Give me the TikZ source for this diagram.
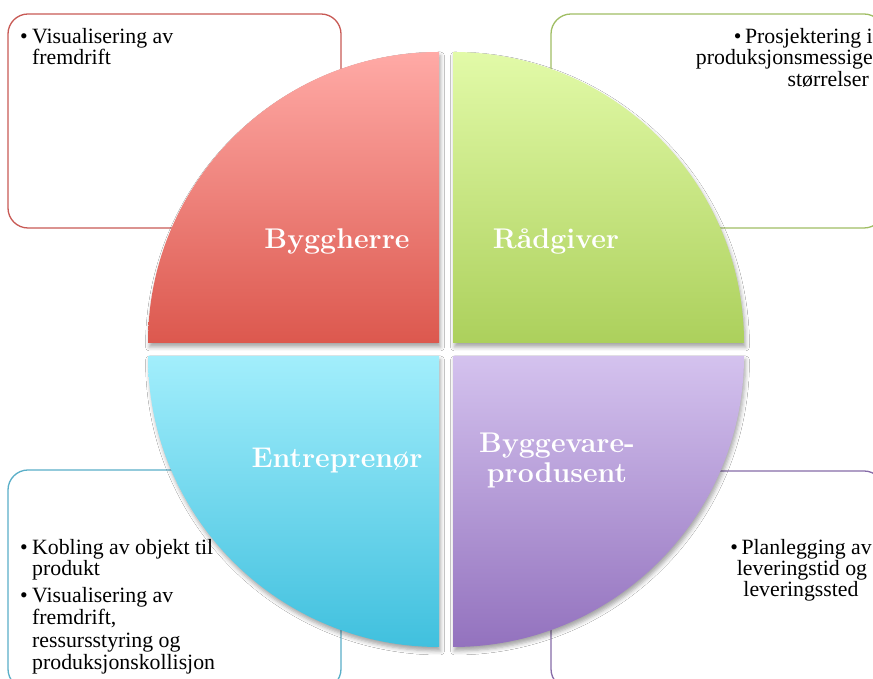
\documentclass[tikz,border=0pt]{standalone}
\usepackage{fontspec}
\newfontfamily\bodyfont{Liberation Serif}
\usetikzlibrary{shadows.blur}
\definecolor{redT}{RGB}{255,170,166}
\definecolor{redB}{RGB}{220,88,78}
\definecolor{grnT}{RGB}{226,250,168}
\definecolor{grnB}{RGB}{172,208,92}
\definecolor{cyaT}{RGB}{162,238,252}
\definecolor{cyaB}{RGB}{64,192,222}
\definecolor{purT}{RGB}{212,194,238}
\definecolor{purB}{RGB}{147,114,190}
\definecolor{redL}{RGB}{200,90,85}
\definecolor{grnL}{RGB}{160,190,100}
\definecolor{cyaL}{RGB}{90,175,200}
\definecolor{purL}{RGB}{135,108,168}
\tikzset{
  quadshape/.style={blur shadow={shadow xshift=1.5pt,shadow yshift=-4pt,shadow blur radius=4pt,shadow opacity=35}},
  infobox/.style={rounded corners=20pt,line width=1.3pt,fill=white},
  bodytext/.style={inner sep=0pt,font=\bodyfont\fontsize{21.8}{24}\selectfont,text=black},
  quadlabel/.style={text=white,inner sep=0pt,font=\fontsize{28.5}{30}\selectfont\bfseries,align=center}
}
\begin{document}
\begin{tikzpicture}[x=1pt,y=1pt]
\useasboundingbox (0,0) rectangle (873,679);
\clip (0,0) rectangle (873,679);
\fill[white] (0,0) rectangle (873,679);
% side boxes
\draw[infobox,draw=redL] (8,451) rectangle (341,665);
\draw[infobox,draw=grnL] (551,451) rectangle (884,665);
\draw[infobox,draw=cyaL] (8,-10) rectangle (341,209);
\draw[infobox,draw=purL] (551,-10) rectangle (884,208);
% box texts
\node[bodytext,anchor=base west] (tlb) at (20,635) {\textbullet};
\node[bodytext,anchor=base west] (tl1) at (32,635) {Visualisering av};
\node[bodytext,anchor=base west] (tl2) at (32,614) {fremdrift};
\node[bodytext,anchor=base east] (tr1) at (873,635) {\textbullet\,Prosjektering i};
\node[bodytext,anchor=base east] (tr2) at (873,614) {produksjonsmessige};
\node[bodytext,anchor=base east] (tr3) at (869,592) {størrelser};
\node[bodytext,anchor=base] (br1) at (801,124) {\textbullet\,Planlegging av};
\node[bodytext,anchor=base] (br2) at (802,103) {leveringstid og};
\node[bodytext,anchor=base] (br3) at (801,82) {leveringssted};
\node[bodytext,anchor=base west] (blb1) at (20,124) {\textbullet};
\node[bodytext,anchor=base west] (bl1) at (32,124) {Kobling av objekt til};
\node[bodytext,anchor=base west] (bl2) at (32,103) {produkt};
\node[bodytext,anchor=base west] (blb2) at (20,76) {\textbullet};
\node[bodytext,anchor=base west] (bl3) at (32,76) {Visualisering av};
\node[bodytext,anchor=base west] (bl4) at (32,54) {fremdrift,};
\node[bodytext,anchor=base west] (bl5) at (32,31) {ressursstyring og};
\node[bodytext,anchor=base west] (bl6) at (32,9) {produksjonskollisjon};
% quadrants
\path[quadshape,top color=redT,bottom color=redB]
  (439,336) -- (148,336) arc[start angle=180,end angle=90,radius=291pt] -- cycle;
\path[quadshape,top color=grnT,bottom color=grnB]
  (453,336) -- (453,627) arc[start angle=90,end angle=0,radius=291pt] -- cycle;
\path[quadshape,top color=cyaT,bottom color=cyaB]
  (439,323) -- (148,323) arc[start angle=180,end angle=270,radius=291pt] -- cycle;
\path[quadshape,top color=purT,bottom color=purB]
  (453,323) -- (744,323) arc[start angle=0,end angle=-90,radius=291pt] -- cycle;
% labels
\node[quadlabel,anchor=base] (byg) at (337,430) {Byggherre};
\node[quadlabel,anchor=base] (rad) at (556,430) {Rådgiver};
\node[quadlabel,anchor=base] (ent) at (337,211) {Entreprenør};
\node[quadlabel,anchor=base] (bvp1) at (557,226) {Byggevare-};
\node[quadlabel,anchor=base] (bvp2) at (557,196) {produsent};
\end{tikzpicture}
\end{document}
